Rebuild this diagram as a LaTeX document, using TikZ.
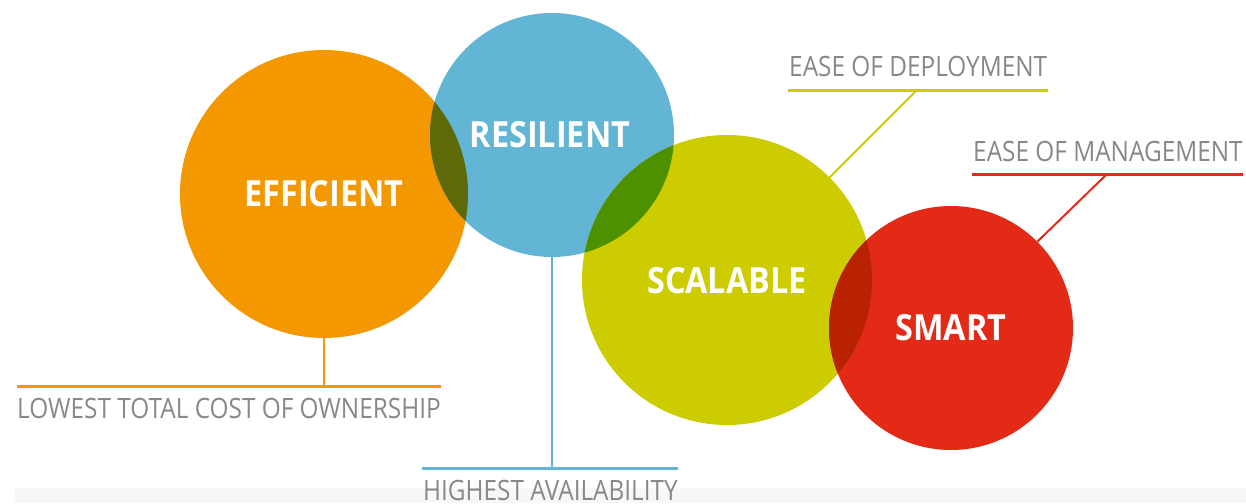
\documentclass[tikz,border=0pt]{standalone}
\usepackage{fontspec}
\setmainfont{Open Sans}
\newfontfamily\capfont{Open Sans}[FakeStretch=0.87]
\newfontfamily\titlefont{Open Sans}[FakeStretch=0.9]
\definecolor{cOr}{HTML}{F39800}
\definecolor{cBl}{HTML}{62B5D5}
\definecolor{cGr}{HTML}{CCCC00}
\definecolor{cRd}{HTML}{E32A16}
\definecolor{cOB}{HTML}{5E6908}
\definecolor{cBG}{HTML}{4D9100}
\definecolor{cGR}{HTML}{B82200}
\definecolor{cTx}{HTML}{888888}
\definecolor{cBand}{HTML}{F7F7F7}
\begin{document}
\begin{tikzpicture}[x=1pt,y=-1pt,
  bubble/.style={circle,inner sep=0pt,minimum size=#1},
  title/.style={text=white,font=\titlefont\fontsize{36}{36}\selectfont\bfseries},
  caption/.style={text=cTx,inner sep=0pt,anchor=base west,font=\capfont\fontsize{28}{28}\selectfont},
  lead/.style={line width=2pt},
  rule/.style={line width=3pt}]
\useasboundingbox (0,0) rectangle (1246,503);
\fill[cBand] (15,488) rectangle (1246,503);
% circles
\node[bubble=288pt,fill=cOr] (eff) at (324,194) {};
\node[bubble=244pt,fill=cBl] (res) at (552,135) {};
\node[bubble=290pt,fill=cGr] (scl) at (727,280) {};
\node[bubble=244pt,fill=cRd] (smt) at (951,328) {};
% overlaps
\begin{scope}
  \clip (324,194) circle (144);
  \fill[cOB] (552,135) circle (122);
\end{scope}
\begin{scope}
  \clip (552,135) circle (122);
  \fill[cBG] (727,280) circle (145);
\end{scope}
\begin{scope}
  \clip (727,280) circle (145);
  \fill[cGR] (951,328) circle (122);
\end{scope}
% titles
\node[title] (teff) at (324,194) {EFFICIENT};
\node[title] (tres) at (550,135) {RESILIENT};
\node[title] (tscl) at (727,281) {SCALABLE};
\node[title] (tsmt) at (951,328) {SMART};
% connector points
\coordinate (effJ) at (324,386);
\coordinate (effL) at (17,386);
\coordinate (effR) at (441,386);
\coordinate (resJ) at (552,468);
\coordinate (resL) at (422,468);
\coordinate (resR) at (678,468);
\coordinate (sclJ) at (917,90);
\coordinate (sclL) at (788,90);
\coordinate (sclR) at (1048,90);
\coordinate (smtJ) at (1107,174);
\coordinate (smtL) at (972,174);
\coordinate (smtR) at (1243,174);
% connectors
\draw[lead,cOr] (eff.south) -- (effJ);
\draw[rule,cOr] (effL) -- (effR);
\draw[lead,cBl] (res.south) -- (resJ);
\draw[rule,cBl] (resL) -- (resR);
\draw[lead,cGr] (scl.45) -- (sclJ);
\draw[rule,cGr] (sclL) -- (sclR);
\draw[lead,cRd] (smt.45) -- (smtJ);
\draw[rule,cRd] (smtL) -- (smtR);
% captions
\node[caption] (ceff) at (17,418) {LOWEST TOTAL COST OF OWNERSHIP};
\node[caption] (cres) at (423,500) {HIGHEST AVAILABILITY};
\node[caption] (cscl) at (789,77) {EASE OF DEPLOYMENT};
\node[caption] (csmt) at (973,161) {EASE OF MANAGEMENT};
\end{tikzpicture}
\end{document}
